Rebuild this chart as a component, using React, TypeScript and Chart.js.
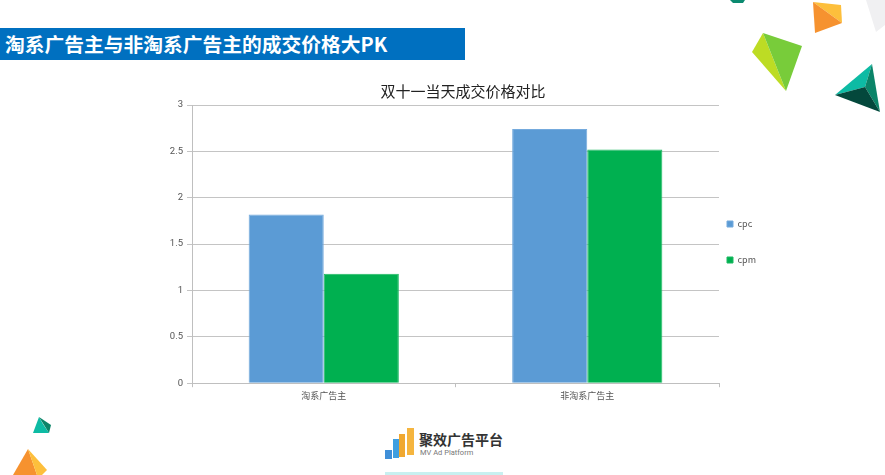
import React, { useRef, useEffect } from 'react';
import { Chart, registerables } from 'chart.js';

Chart.register(...registerables);

const categories = ['淘系广告主', '非淘系广告主'];
const cpcValues = [1.82, 2.74];
const cpmValues = [1.18, 2.52];
const yMax = 3;
const yStep = 0.5;

const CJK = '"Noto Sans CJK SC", sans-serif';

// background triangles of the slide: [points, fill]
const shapes: [string, string][] = [
    ['730,0 745,0 743,3 733,3', '#0b8a70'],
    ['866,0 885,0 885,25 876,32', '#f0f0f2'],
    ['813,2 841,5 842,23', '#fdbf3c'],
    ['813,2 842,23 815,33', '#f6922f'],
    ['752,52 763,33 786,91', '#bddc24'],
    ['763,33 802,46 786,91', '#78cc3a'],
    ['872,64 835,95 865,87', '#0dbba4'],
    ['872,64 880,112 865,87', '#0b8468'],
    ['835,95 880,112 865,87', '#04483c'],
    ['39,417 33,433 49,433 43,424', '#0dbba4'],
    ['39,417 51,425 49,433', '#0b8468'],
    ['28,449 13,475 37,475', '#f6922f'],
    ['28,449 47,470 42,475 37,475', '#fdbf3c'],
];

// label padding sets the gap between entries but also the legend's width,
// so keep the box narrow and slide it back over the empty space
const legendFit = {
    id: 'legendFit',
    beforeLayout(chart: any) {
        const legend = chart.legend;
        const fit = legend.fit;
        legend.fit = function (this: any) {
            fit.call(this);
            this.width = 47;
        };
    },
    afterLayout(chart: any) {
        chart.legend.left -= 19;
    },
};

const App: React.FC = () => {
    const canvasRef = useRef<HTMLCanvasElement>(null);

    useEffect(() => {
        if (!canvasRef.current) return;
        const chart = new Chart(canvasRef.current, {
            type: 'bar',
            plugins: [legendFit],
            data: {
                labels: categories,
                datasets: [
                    { label: 'cpc', data: cpcValues, backgroundColor: '#5B9BD5', borderColor: '#74aadd', borderWidth: 1 },
                    { label: 'cpm', data: cpmValues, backgroundColor: '#00B050', borderColor: '#1cb962', borderWidth: 1 },
                ],
            },
            options: {
                responsive: false,
                animation: false,
                devicePixelRatio: 1,
                layout: { padding: 0 },
                datasets: { bar: { barPercentage: 1, categoryPercentage: 0.57 } },
                plugins: {
                    tooltip: { enabled: false },
                    title: {
                        display: true,
                        text: '双十一当天成交价格对比',
                        color: '#222',
                        font: { family: CJK, size: 15, weight: 'normal' },
                        padding: { top: 2, bottom: 5 },
                    },
                    legend: {
                        position: 'right',
                        labels: {
                            boxWidth: 6,
                            boxHeight: 6,
                            padding: 27,
                            color: '#555',
                            font: { family: CJK, size: 9 },
                        },
                    },
                },
                scales: {
                    x: {
                        grid: { drawOnChartArea: false, color: '#bfbfbf', tickLength: 4 },
                        border: { color: '#bfbfbf' },
                        ticks: { color: '#555', font: { family: CJK, size: 9 }, padding: 3 },
                    },
                    y: {
                        min: 0,
                        max: yMax,
                        afterFit: (axis: any) => { axis.width = 32; },
                        grid: { color: '#c4c4c4', tickLength: 5 },
                        border: { color: '#bfbfbf' },
                        ticks: {
                            stepSize: yStep,
                            color: '#555',
                            font: { family: 'Roboto', size: 9.5 },
                            padding: 4,
                            callback: (value: any) => String(value),
                        },
                    },
                },
            },
        });
        return () => chart.destroy();
    }, []);

    return (
        <div style={{ position: 'absolute', left: 0, top: 0, width: 885, height: 475, overflow: 'hidden', background: '#fff' }}>
            <svg width={885} height={475} style={{ position: 'absolute', left: 0, top: 0 }}>
                {shapes.map(([points, fill]) => <polygon key={points} points={points} fill={fill} />)}
                {/* logo bars */}
                <rect x={385} y={450} width={7} height={9} fill="#3f8fd8" />
                <rect x={393} y={439} width={6} height={19} fill="#3f9fe0" />
                <rect x={399} y={434} width={6} height={23} fill="#f0a830" />
                <rect x={407} y={428} width={7} height={27} fill="#f5b53f" />
                <rect x={385} y={472} width={118} height={3} fill="#c8f0f0" />
            </svg>
            <div style={{
                position: 'absolute', left: 0, top: 28, width: 465, height: 32, background: '#0070C0', color: '#fff',
                fontFamily: CJK, fontWeight: 700, fontSize: 19.75, lineHeight: '32px', paddingLeft: 5, boxSizing: 'border-box', whiteSpace: 'nowrap',
            }}>淘系广告主与非淘系广告主的成交价格大PK</div>
            <div style={{ position: 'absolute', left: 419, top: 430, fontFamily: CJK, fontWeight: 700, fontSize: 14, lineHeight: '18px', color: '#333', whiteSpace: 'nowrap' }}>聚效广告平台</div>
            <div style={{ position: 'absolute', left: 420, top: 448, fontFamily: 'Roboto', fontSize: 7.5, lineHeight: '10px', color: '#777', whiteSpace: 'nowrap' }}>MV Ad Platform</div>
            <canvas ref={canvasRef} width={606} height={324} style={{ position: 'absolute', left: 160, top: 80, width: 606, height: 324 }} />
        </div>
    );
};

export default App;
